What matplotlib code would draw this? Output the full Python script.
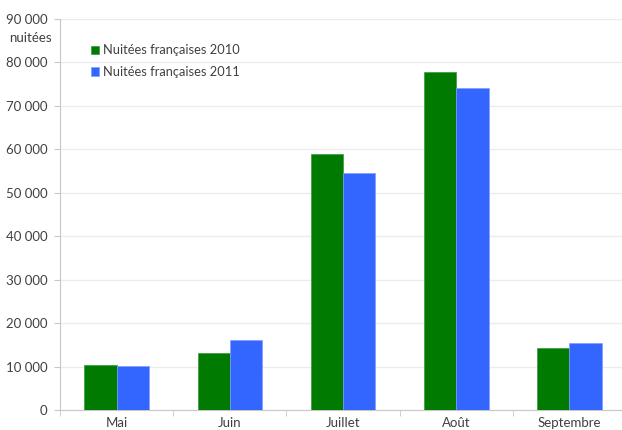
import matplotlib.pyplot as plt
import matplotlib.transforms as mtransforms
import numpy as np

mois = ['Mai', 'Juin', 'Juillet', 'Août', 'Septembre']
nuitees_2010 = [10300, 13200, 59000, 77800, 14300]
nuitees_2011 = [10200, 16200, 54500, 74200, 15400]
y_ticks = [0, 10000, 20000, 30000, 40000, 50000, 60000, 70000, 80000, 90000]

plt.rcParams['font.family'] = ['Lato', 'DejaVu Sans']

def fmt(v):
    return f'{v:,}'.replace(',', ' ')

fig = plt.figure(figsize=(6.22, 4.30), dpi=100)
ax = fig.add_axes([0.0965, 0.0465, 0.91, 0.9093])

x = np.arange(len(mois))
w = 0.285
ax.bar(x - w / 2, nuitees_2010, w, color='#007A00', edgecolor='#3a9a3a', linewidth=0.5,
       label='Nuitées françaises 2010', zorder=3)
ax.bar(x + w / 2, nuitees_2011, w, color='#3366FF', edgecolor='#7f9fff', linewidth=0.5,
       label='Nuitées françaises 2011', zorder=3)

ax.set_xlim(-0.5, len(mois) - 0.5)
ax.set_ylim(0, 90000)
ax.set_yticks(y_ticks)
ax.set_yticklabels([fmt(v) for v in y_ticks], fontsize=9.5, color='#404040')
ax.set_xticks(x)
ax.set_xticklabels(mois, fontsize=9.5, color='#404040')
ax.set_xticks(np.arange(len(mois) + 1) - 0.5, minor=True)
ax.tick_params(axis='x', which='major', length=0, pad=5)
ax.tick_params(axis='x', which='minor', length=4, color='#c8c8c8', direction='out')
ax.tick_params(axis='y', length=4, color='#c8c8c8', pad=5)

ax.grid(axis='y', color='#ececec', linewidth=1, zorder=0)
for s in ['top', 'right']:
    ax.spines[s].set_visible(False)
ax.spines['left'].set_color('#c8c8c8')
ax.spines['bottom'].set_color('#c8c8c8')

# libellé de l'unité sous le tick du haut
off = mtransforms.offset_copy(ax.transAxes, fig=fig, x=-8, y=0, units='dots')
ax.text(0, 0.968, 'nuitées', transform=off, ha='right', va='top',
        fontsize=9.5, color='#404040')

ax.legend(loc='upper left', bbox_to_anchor=(0.035, 0.965), frameon=False, fontsize=9.3,
          handlelength=0.6, handleheight=0.6, handletextpad=0.3, labelspacing=0.75,
          labelcolor='#404040')

fig.savefig('out.png', dpi=100)
